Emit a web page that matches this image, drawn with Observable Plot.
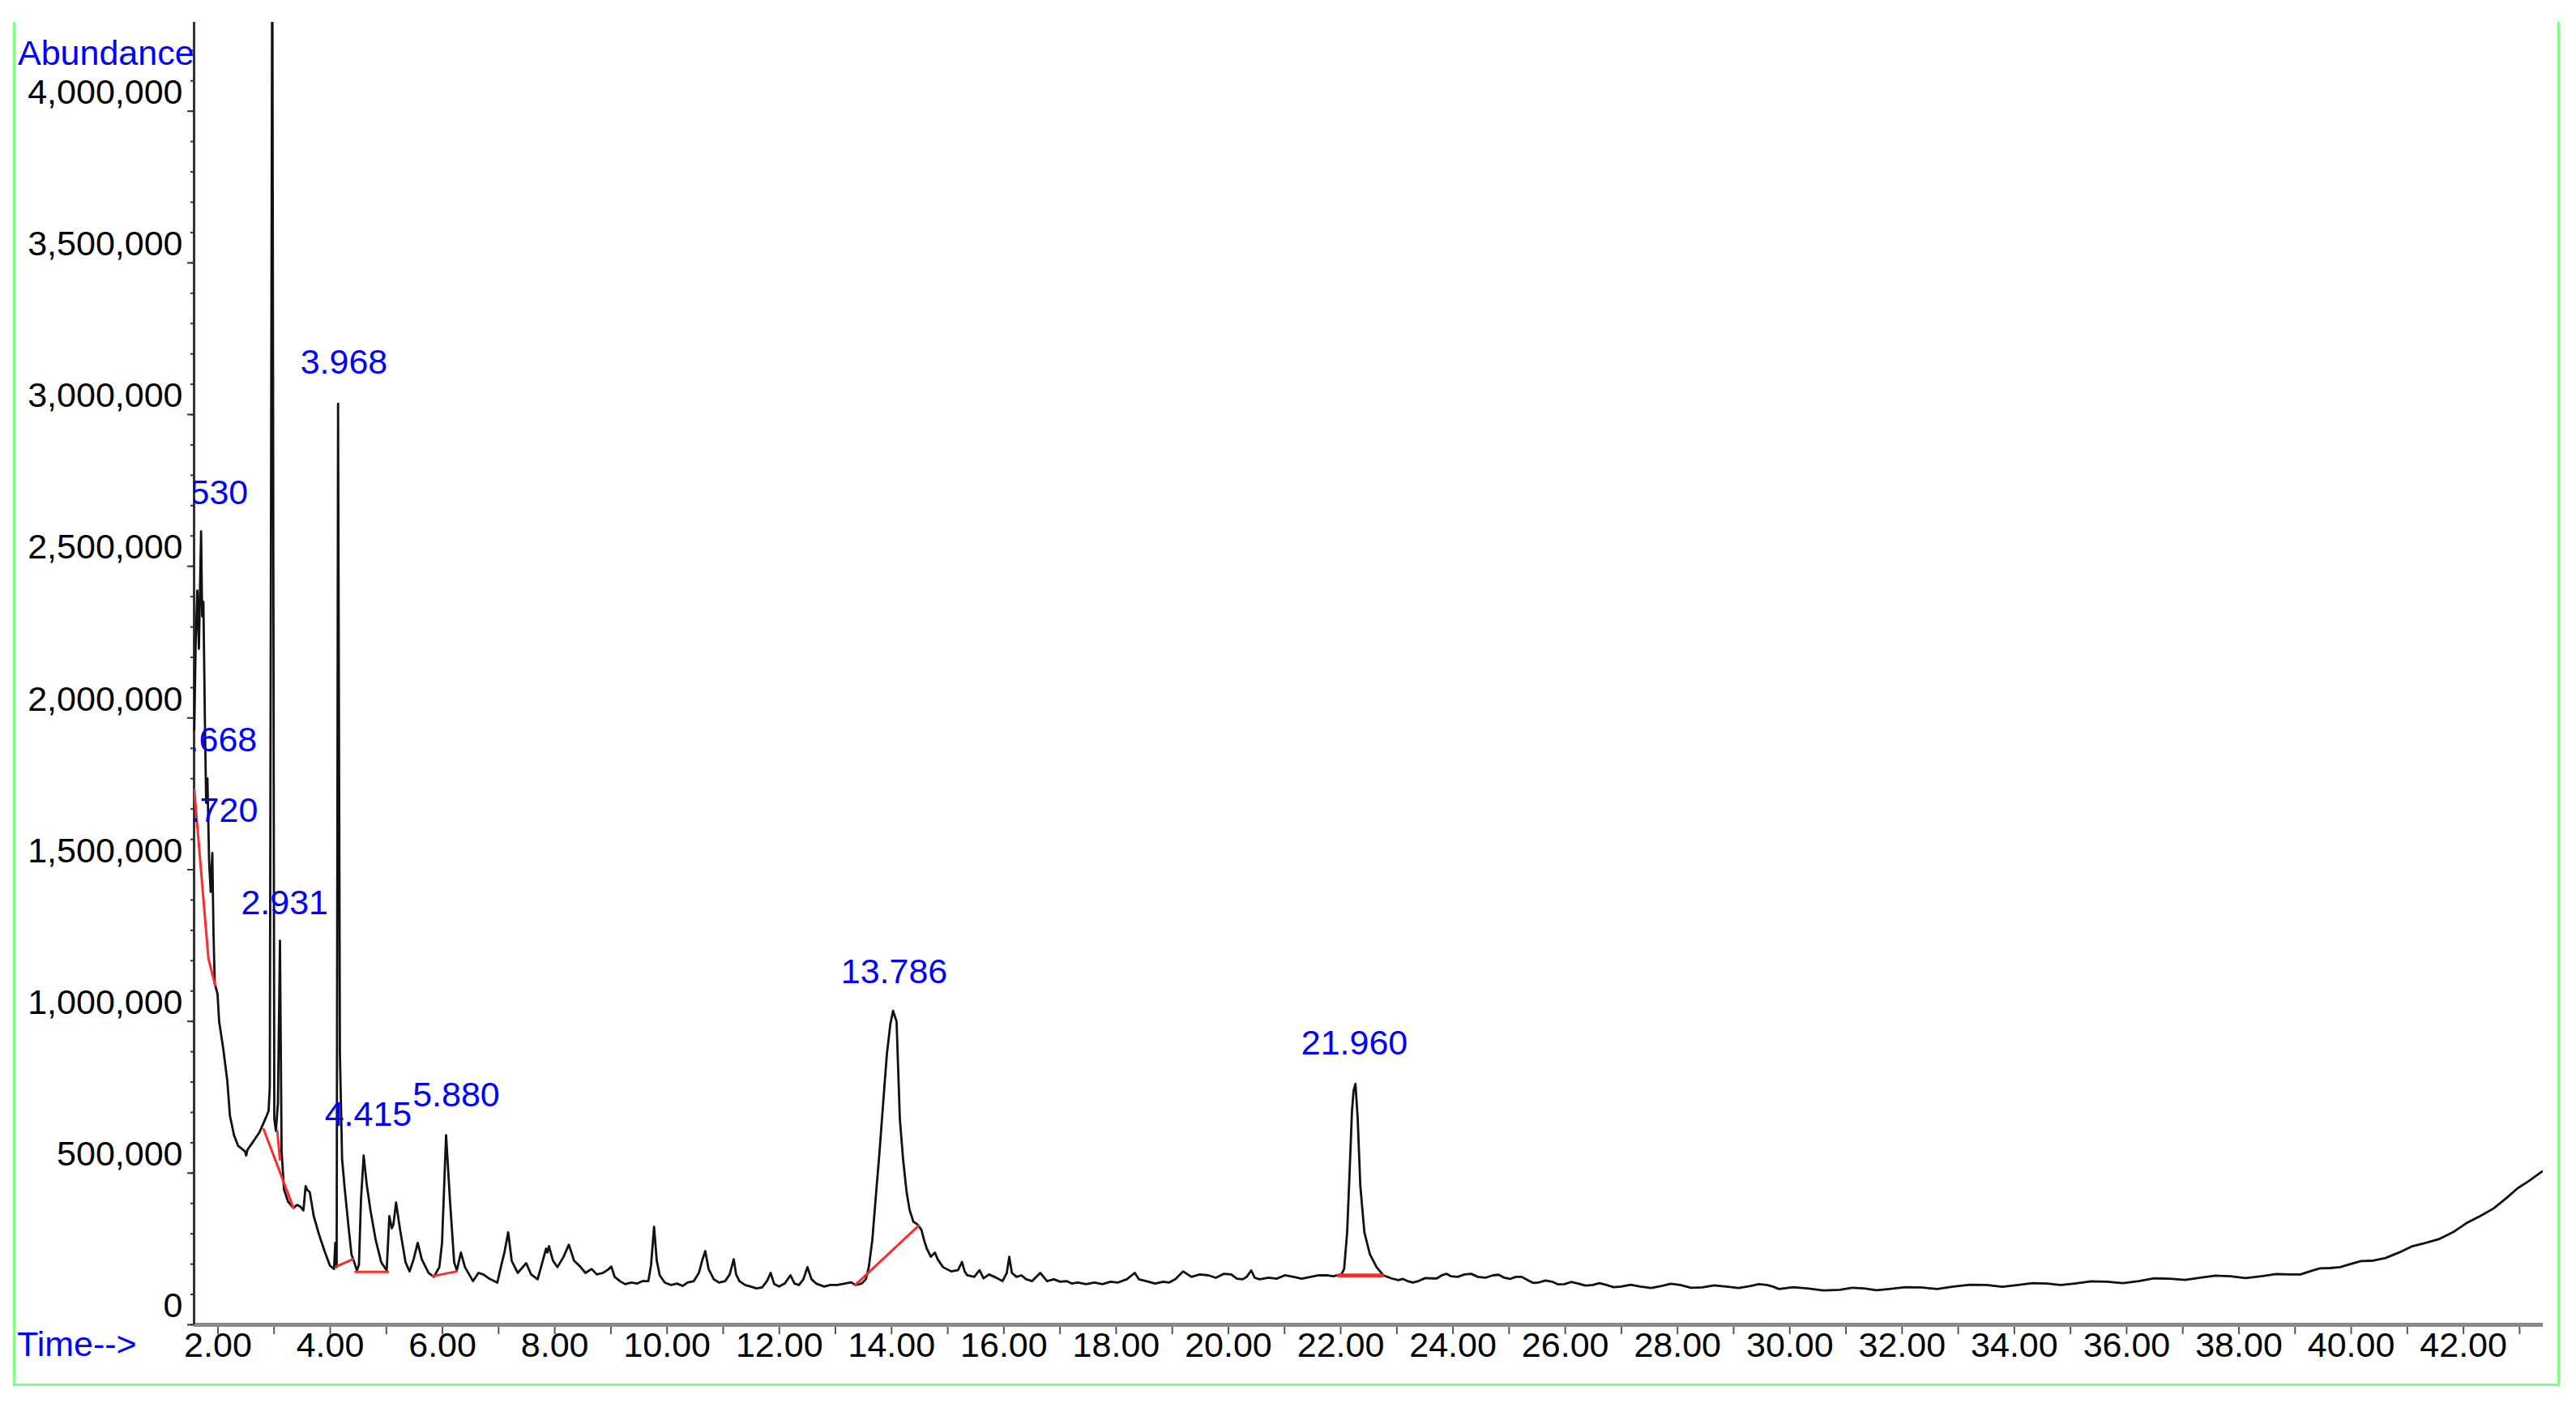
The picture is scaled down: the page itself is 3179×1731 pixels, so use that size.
<!DOCTYPE html>
<html><head><meta charset="utf-8">
<script src="https://cdn.jsdelivr.net/npm/d3@7"></script>
<script src="https://cdn.jsdelivr.net/npm/@observablehq/plot@0.6"></script>
<style>
html,body{margin:0;padding:0;background:#fff;}
#wrap{position:relative;width:3179px;height:1731px;overflow:hidden;font-family:"Liberation Sans",Arial,sans-serif;background:#fff;}
#chart{position:absolute;left:0;top:0;}
#frame{position:absolute;left:16px;top:27px;width:3143px;height:1683px;box-sizing:border-box;border:3px solid #80ff80;border-top:none;pointer-events:none;}
.lbl{position:absolute;font-size:43px;line-height:43px;color:#0000ff;white-space:nowrap;}
</style></head><body>
<div id="wrap"><div id="chart"></div><div id="frame"></div>
<div class="lbl" style="left:22px;top:44px">Abundance</div>
<div class="lbl" style="left:21px;top:1637px">Time--&gt;</div>
</div>
<script>
// Total ion chromatogram: [time (min), abundance]
const chromatogram = [
[1.579,1961000],[1.604,2255000],[1.633,2420000],[1.661,2228000],[1.700,2615000],[1.719,2335000],[1.741,2383000],[1.770,1961000],[1.791,1720000],[1.813,1801000],
[1.842,1533000],[1.871,1427000],[1.900,1555000],[1.921,1293000],[1.943,1125000],[1.993,1090000],[2.022,999000],[2.094,911000],[2.167,804000],[2.214,689000],
[2.286,625000],[2.359,590000],[2.480,572000],[2.503,558000],[2.527,577000],[2.600,596000],[2.744,636000],[2.864,687000],[2.903,705000],[2.924,785000],
[2.968,4650000],[3.004,679000],[3.033,639000],[3.069,732000],[3.105,1266000],[3.134,572000],[3.177,446000],[3.249,406000],[3.346,385000],[3.408,395000],
[3.466,390000],[3.523,377000],[3.562,457000],[3.596,443000],[3.635,438000],[3.707,358000],[3.802,297000],[3.899,243000],[3.995,195000],[4.068,184000],
[4.091,270000],[4.115,190000],[4.140,3036000],[4.173,892000],[4.212,545000],[4.260,446000],[4.332,313000],[4.379,232000],[4.428,206000],[4.476,179000],
[4.512,198000],[4.548,411000],[4.596,558000],[4.649,465000],[4.717,377000],[4.812,278000],[4.909,206000],[5.006,179000],[5.053,358000],[5.097,318000],
[5.126,331000],[5.173,403000],[5.245,313000],[5.342,206000],[5.414,176000],[5.486,216000],[5.559,270000],[5.631,216000],[5.751,171000],[5.847,158000],
[5.944,190000],[5.992,270000],[6.064,625000],[6.136,403000],[6.208,206000],[6.256,179000],[6.328,238000],[6.400,190000],[6.544,144000],[6.641,171000],
[6.728,166000],[6.833,152000],[6.977,139000],[7.050,198000],[7.103,238000],[7.171,305000],[7.233,211000],[7.340,171000],[7.491,203000],[7.579,166000],
[7.695,150000],[7.767,198000],[7.845,251000],[7.868,238000],[7.897,259000],[7.969,211000],[8.048,190000],[8.157,224000],[8.251,264000],[8.344,211000],
[8.453,192000],[8.547,171000],[8.656,184000],[8.749,166000],[8.858,171000],[8.951,182000],[9.008,192000],[9.066,158000],[9.161,144000],[9.254,134000],
[9.365,139000],[9.470,136000],[9.567,144000],[9.668,144000],[9.716,198000],[9.769,323000],[9.817,211000],[9.870,163000],[9.961,139000],[10.074,131000],
[10.178,136000],[10.279,128000],[10.365,139000],[10.478,144000],[10.567,171000],[10.625,211000],[10.681,243000],[10.740,184000],[10.833,150000],[10.928,139000],
[11.035,144000],[11.116,166000],[11.188,216000],[11.231,166000],[11.289,144000],[11.390,131000],[11.491,126000],[11.592,120000],[11.693,123000],[11.780,144000],
[11.845,171000],[11.910,134000],[11.996,126000],[12.097,136000],[12.198,163000],[12.271,136000],[12.351,131000],[12.429,150000],[12.501,190000],[12.574,150000],
[12.656,136000],[12.800,126000],[12.906,131000],[13.036,131000],[13.165,136000],[13.281,140000],[13.353,131000],[13.469,136000],[13.541,150000],[13.594,190000],
[13.656,278000],[13.714,411000],[13.786,572000],[13.858,751000],[13.916,892000],[13.978,991000],[14.027,1035000],[14.089,999000],[14.118,839000],[14.147,679000],
[14.205,545000],[14.267,438000],[14.320,379000],[14.388,340000],[14.460,331000],[14.532,313000],[14.580,278000],[14.628,251000],[14.700,224000],[14.772,238000],
[14.821,216000],[14.916,190000],[15.061,176000],[15.182,180000],[15.254,207000],[15.302,176000],[15.349,163000],[15.471,158000],[15.566,180000],[15.638,153000],
[15.735,166000],[15.831,158000],[15.976,144000],[16.052,171000],[16.096,224000],[16.143,171000],[16.225,158000],[16.312,163000],[16.399,150000],[16.504,144000],
[16.648,171000],[16.770,144000],[16.890,150000],[17.005,142000],[17.116,144000],[17.207,136000],[17.318,139000],[17.467,134000],[17.611,139000],[17.756,134000],
[17.900,142000],[18.027,139000],[18.189,150000],[18.331,171000],[18.405,150000],[18.533,144000],[18.694,136000],[18.838,142000],[18.939,139000],[19.055,150000],
[19.192,176000],[19.343,158000],[19.488,166000],[19.646,163000],[19.776,155000],[19.921,168000],[20.051,166000],[20.151,152000],[20.253,150000],[20.325,158000],
[20.407,179000],[20.469,155000],[20.556,150000],[20.715,155000],[20.859,152000],[21.003,163000],[21.162,158000],[21.306,152000],[21.465,158000],[21.610,163000],
[21.750,163000],[21.869,160000],[21.941,163000],[22.013,166000],[22.061,184000],[22.115,305000],[22.158,500000],[22.201,705000],[22.230,772000],[22.263,794000],
[22.303,679000],[22.350,457000],[22.422,305000],[22.519,233000],[22.639,190000],[22.760,163000],[22.904,153000],[23.024,147000],[23.108,151000],[23.191,144000],
[23.288,139000],[23.385,144000],[23.506,154000],[23.626,153000],[23.712,153000],[23.799,163000],[23.880,168000],[23.962,160000],[24.084,158000],[24.205,166000],
[24.324,168000],[24.443,158000],[24.576,155000],[24.710,163000],[24.812,165000],[24.915,155000],[25.016,151000],[25.117,158000],[25.225,158000],[25.333,147000],
[25.427,138000],[25.521,139000],[25.644,146000],[25.766,142000],[25.874,133000],[25.983,134000],[26.106,141000],[26.229,136000],[26.359,129000],[26.489,131000],
[26.611,137000],[26.734,131000],[26.863,124000],[26.993,126000],[27.166,132000],[27.340,126000],[27.527,121000],[27.715,128000],[27.881,135000],[28.047,131000],
[28.242,122000],[28.437,123000],[28.653,130000],[28.870,126000],[29.086,121000],[29.303,128000],[29.447,134000],[29.592,131000],[29.700,126000],[29.808,118000],
[30.060,124000],[30.313,120000],[30.602,113000],[30.891,115000],[31.107,122000],[31.324,120000],[31.547,114000],[31.771,118000],[32.052,124000],[32.334,123000],
[32.622,118000],[32.911,126000],[33.207,132000],[33.503,131000],[33.784,125000],[34.066,131000],[34.326,137000],[34.586,136000],[34.831,131000],[35.076,136000],
[35.365,143000],[35.654,142000],[35.935,137000],[36.217,144000],[36.491,153000],[36.765,152000],[37.040,148000],[37.314,155000],[37.581,162000],[37.848,160000],
[38.122,154000],[38.396,160000],[38.663,167000],[38.930,166000],[39.096,166000],[39.262,176000],[39.442,186000],[39.623,187000],[39.803,190000],[39.984,200000],
[40.177,210000],[40.370,211000],[40.610,220000],[40.850,238000],[41.090,259000],[41.331,270000],[41.572,283000],[41.813,305000],[42.053,335000],[42.294,358000],
[42.534,383000],[42.774,419000],[42.966,450000],[43.159,473000],[43.401,505000]
];

// Integration baselines (red), each a list of [time, abundance]
const baselines = [
  [[1.579,1763000],[1.830,1208000],[1.950,1119000]],
  [[2.816,644000],[3.346,385000]],
  [[3.057,639000],[3.105,545000]],
  [[4.115,193000],[4.404,216000]],
  [[4.451,174000],[5.029,174000]],
  [[5.823,160000],[6.256,176000]],
  [[13.353,131000],[14.483,327000]]
];
const baselineWide = [[21.966,162000],[22.735,162000]];

// Peak labels (retention time text) and where they sit
const peakLabels = ["1.530","1.668","1.720","2.931","3.968","4.415","5.880","13.786","21.960"];
const peakLabelTime = [1.762,1.921,1.936,3.187,4.245,4.678,6.244,14.046,22.245];
const peakLabelAbundance = [2741000,1926000,1694000,1389000,3171000,692000,756000,1163000,927000];

const xDomain = [1.575, 43.42];
const yDomain = [0, 4293000];
const xLabelTicks = d3.range(2, 43, 2);
const xMinorTicks = d3.range(2, 44, 1);
const yMajorTicks = d3.range(0, 4000001, 500000);
const yMinorTicks = d3.range(0, 4200001, 100000);

const baselineRows = baselines.flatMap((seg, i) => seg.map(p => ({t: p[0], v: p[1], seg: i})));
const baselineWideRows = baselineWide.map(p => ({t: p[0], v: p[1]}));
const peakRows = peakLabels.map((s, i) => ({label: s, t: peakLabelTime[i], v: peakLabelAbundance[i]}));

const font = '"Liberation Sans", Arial, sans-serif';
const chart = Plot.plot({
  width: 3179, height: 1731,
  marginLeft: 239, marginRight: 41, marginTop: 27, marginBottom: 97,
  x: {domain: xDomain, label: null},
  y: {domain: yDomain, label: null},
  style: {fontFamily: font, fontSize: "43px", background: "transparent", color: "#000", overflow: "visible"},
  marks: [
    Plot.axisY({ticks: yMinorTicks, tickSize: 4, tickFormat: () => "", stroke: "#333", strokeWidth: 2, label: null}),
    Plot.axisY({ticks: yMajorTicks, tickSize: 8, tickFormat: () => "", stroke: "#333", strokeWidth: 2, label: null}),
    Plot.axisY({ticks: yMajorTicks, tickSize: 0, tickPadding: 14, tickFormat: d3.format(","), dy: -23, fill: "#000", fontSize: 43, label: null}),
    Plot.axisX({ticks: xMinorTicks, tickSize: 12, tickFormat: () => "", stroke: "#555", strokeWidth: 2, label: null}),
    Plot.axisX({ticks: xLabelTicks, tickSize: 0, tickPadding: 9, tickFormat: d => d.toFixed(2), fill: "#000", fontSize: 43, label: null}),
    Plot.ruleY([0], {stroke: "#8a8a8a", strokeWidth: 5}),
    Plot.ruleX([xDomain[0]], {stroke: "#333", strokeWidth: 3}),
    Plot.line(chromatogram, {x: d => d[0], y: d => d[1], stroke: "#111", strokeWidth: 2.8, clip: true}),
    Plot.line(baselineRows, {x: "t", y: "v", z: "seg", stroke: "#ff2a2a", strokeWidth: 3, clip: true}),
    Plot.line(baselineWideRows, {x: "t", y: "v", stroke: "#ff2a2a", strokeWidth: 5, clip: true}),
    Plot.text(peakRows, {x: "t", y: "v", text: "label", fill: "#0000ff", fontSize: 43, fontFamily: font, textAnchor: "middle", lineAnchor: "middle", clip: true})
  ]
});
document.getElementById("chart").appendChild(chart);
</script>
</body></html>
